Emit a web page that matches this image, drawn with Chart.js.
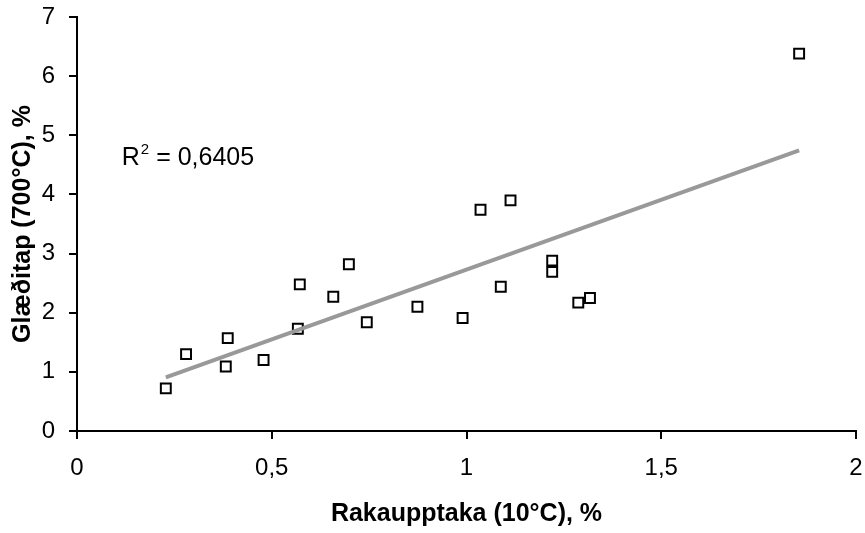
<!DOCTYPE html>
<html>
<head>
<meta charset="utf-8">
<script src="https://cdn.jsdelivr.net/npm/chart.js@4.4.1/dist/chart.umd.min.js"></script>
<style>
  html, body { margin: 0; padding: 0; background: #fff; }
  #wrap { width: 865px; height: 533px; }
</style>
</head>
<body>
<div id="wrap"><canvas id="chart" width="865" height="533"></canvas></div>
<script>
// Rakaupptaka (10°C), % on x, Glæðitap (700°C), % on y
var rakaupptaka = [0.228, 0.280, 0.387, 0.382, 0.479, 0.567, 0.572, 0.658, 0.698, 0.744,
                   0.874, 0.990, 1.036, 1.088, 1.113, 1.220, 1.220, 1.287, 1.317, 1.854];
var gladitap    = [0.72, 1.30, 1.57, 1.09, 1.20, 1.73, 2.48, 2.27, 2.82, 1.84,
                   2.10, 1.91, 3.74, 2.44, 3.90, 2.88, 2.69, 2.17, 2.25, 6.38];
var xTickLabels = ['0', '0,5', '1', '1,5', '2'];
var yTickLabels = ['0', '1', '2', '3', '4', '5', '6', '7'];
var r2Text = '0,6405';

document.addEventListener('DOMContentLoaded', function () {
    var points = rakaupptaka.map(function (x, i) { return { x: x, y: gladitap[i] }; });

    // least squares trend line over the points
    var n = points.length, sx = 0, sy = 0, sxx = 0, sxy = 0;
    points.forEach(function (p) { sx += p.x; sy += p.y; sxx += p.x * p.x; sxy += p.x * p.y; });
    var slope = (n * sxy - sx * sy) / (n * sxx - sx * sx);
    var intercept = (sy - slope * sx) / n;
    var xMin = Math.min.apply(null, rakaupptaka), xMax = Math.max.apply(null, rakaupptaka);
    var trend = [
        { x: xMin, y: intercept + slope * xMin },
        { x: xMax, y: intercept + slope * xMax }
    ];

    var fontFamily = '"Liberation Sans", Arial, sans-serif';

    // R² label, placed in data units
    var r2Label = {
        id: 'r2Label',
        afterDatasetsDraw: function (chart) {
            var ctx = chart.ctx;
            var px = chart.scales.x.getPixelForValue(0.115);
            var py = chart.scales.y.getPixelForValue(4.49);
            ctx.save();
            ctx.fillStyle = '#000';
            ctx.textBaseline = 'alphabetic';
            ctx.font = '25px ' + fontFamily;
            ctx.fillText('R', px, py);
            var w = ctx.measureText('R').width;
            ctx.font = '15px ' + fontFamily;
            ctx.fillText('2', px + w + 1, py - 11);
            var w2 = ctx.measureText('2').width;
            ctx.font = '25px ' + fontFamily;
            ctx.fillText(' = ' + r2Text, px + w + w2 + 1, py);
            ctx.restore();
        }
    };

    var ctx = document.getElementById('chart').getContext('2d');
    var chart = new Chart(ctx, {
        type: 'scatter',
        data: {
            datasets: [{
                label: 'Trend',
                data: trend,
                showLine: true,
                borderColor: '#999999',
                borderWidth: 4,
                pointRadius: 0,
                fill: false,
                order: 0
            }, {
                label: 'Mælingar',
                data: points,
                pointStyle: 'rect',
                pointRadius: 7,
                pointBorderWidth: 2,
                pointBorderColor: '#000',
                pointBackgroundColor: 'rgba(255,255,255,0)',
                order: 1
            }]
        },
        options: {
            responsive: false,
            animation: false,
            layout: { padding: { top: 17, right: 4, bottom: 0, left: 0 } },
            plugins: {
                legend: { display: false },
                tooltip: { enabled: false }
            },
            scales: {
                x: {
                    type: 'linear',
                    min: 0,
                    max: 2,
                    ticks: {
                        stepSize: 0.5,
                        padding: 15,
                        color: '#000',
                        font: { family: fontFamily, size: 24 },
                        callback: function (value, index) { return xTickLabels[index]; }
                    },
                    grid: { drawOnChartArea: false, drawTicks: true, tickLength: 8, color: '#000', lineWidth: 2 },
                    border: { color: '#000', width: 2 },
                    title: {
                        display: true,
                        text: 'Rakaupptaka (10°C), %',
                        color: '#000',
                        padding: { top: 0, bottom: 4 },
                        font: { family: fontFamily, size: 25, weight: 'bold' }
                    },
                    afterFit: function (scale) {
                        scale.height = 102;
                        scale.paddingLeft = 0;
                        scale.paddingRight = 0;
                    }
                },
                y: {
                    type: 'linear',
                    min: 0,
                    max: 7,
                    ticks: {
                        stepSize: 1,
                        padding: 14,
                        color: '#000',
                        font: { family: fontFamily, size: 24 },
                        callback: function (value, index) { return yTickLabels[index]; }
                    },
                    grid: { drawOnChartArea: false, drawTicks: true, tickLength: 8, color: '#000', lineWidth: 2 },
                    border: { color: '#000', width: 2 },
                    title: {
                        display: true,
                        text: 'Glæðitap (700°C), %',
                        color: '#000',
                        padding: { top: 8, bottom: 0 },
                        font: { family: fontFamily, size: 25, weight: 'bold' }
                    },
                    afterFit: function (scale) {
                        scale.width = 77;
                        scale.paddingTop = 0;
                        scale.paddingBottom = 0;
                    }
                }
            }
        },
        plugins: [r2Label]
    });
});
</script>
</body>
</html>
